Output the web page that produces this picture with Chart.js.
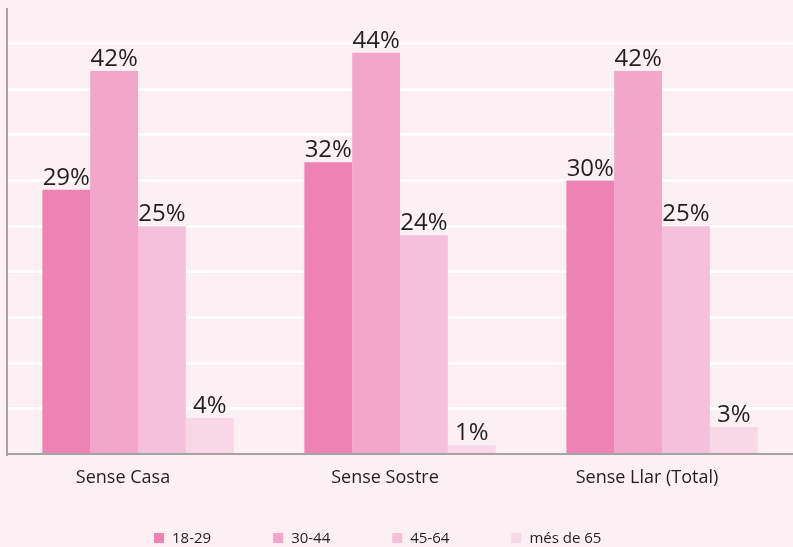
<!DOCTYPE html>
<html>
<head>
<meta charset="utf-8">
<script src="https://cdn.jsdelivr.net/npm/chart.js@4"></script>
<style>
  html, body { margin: 0; padding: 0; background: #fcf0f5; }
  #wrap { width: 793px; height: 547px; }
</style>
</head>
<body>
<div id="wrap"><canvas id="chart"></canvas></div>
<script>
// dades
const categories = ['Sense Casa', 'Sense Sostre', 'Sense Llar (Total)'];
const ageGroups = ['18-29', '30-44', '45-64', 'més de 65'];
const v18_29 = [29, 32, 30];
const v30_44 = [42, 44, 42];
const v45_64 = [25, 24, 25];
const v65 = [4, 1, 3];
const colors = ['#ee83b3', '#f2a6ca', '#f5c0da', '#f8d7e6'];

const textColor = '#231f20';
const font = '"Open Sans", "DejaVu Sans", sans-serif';

// etiquetes de percentatge sobre cada barra
const valueLabels = {
    id: 'valueLabels',
    afterDatasetsDraw(chart) {
        const ctx = chart.ctx;
        ctx.save();
        ctx.fillStyle = textColor;
        ctx.font = '24px ' + font;
        ctx.textAlign = 'center';
        ctx.textBaseline = 'alphabetic';
        chart.data.datasets.forEach((ds, i) => {
            chart.getDatasetMeta(i).data.forEach((bar, j) => {
                ctx.fillText(ds.data[j] + '%', bar.x, bar.y - 5);
            });
        });
        ctx.restore();
    }
};

// llegenda a mà (espaiat ample)
const bottomLegend = {
    id: 'bottomLegend',
    afterDraw(chart, args, opts) {
        const ctx = chart.ctx;
        ctx.save();
        ctx.font = '15px ' + font;
        ctx.textBaseline = 'middle';
        let x = opts.startX;
        const y = opts.y;
        chart.data.datasets.forEach(ds => {
            ctx.fillStyle = ds.backgroundColor;
            ctx.fillRect(x, y - 5, 10, 10);
            ctx.fillStyle = textColor;
            ctx.fillText(ds.label, x + 18, y + 1);
            x += 18 + ctx.measureText(ds.label).width + opts.gap;
        });
        ctx.restore();
    }
};

new Chart(document.getElementById('chart'), {
    type: 'bar',
    data: {
        labels: categories,
        datasets: [
            { label: ageGroups[0], data: v18_29, backgroundColor: colors[0] },
            { label: ageGroups[1], data: v30_44, backgroundColor: colors[1] },
            { label: ageGroups[2], data: v45_64, backgroundColor: colors[2] },
            { label: ageGroups[3], data: v65, backgroundColor: colors[3] }
        ]
    },
    options: {
        responsive: true,
        maintainAspectRatio: false,
        animation: false,
        layout: { padding: { left: 7, right: 0, top: 9, bottom: 45 } },
        datasets: {
            bar: { categoryPercentage: 0.73, barPercentage: 1.0 }
        },
        scales: {
            x: {
                grid: { display: false, drawTicks: false },
                border: { display: true, color: '#a3a3a3', width: 2 },
                ticks: {
                    color: textColor,
                    font: { family: font, size: 18 },
                    padding: 13,
                    labelOffset: -15
                }
            },
            y: {
                min: 0,
                max: 48.8,
                ticks: { display: false, stepSize: 5 },
                grid: {
                    drawTicks: false,
                    lineWidth: 3,
                    color: c => (c.tick && c.tick.value > 0 && c.tick.value % 5 === 0) ? '#ffffff' : 'rgba(0,0,0,0)'
                },
                border: { display: true, color: '#a3a3a3', width: 2 }
            }
        },
        plugins: {
            legend: { display: false },
            tooltip: { enabled: false },
            bottomLegend: { startX: 154, y: 538, gap: 62 }
        }
    },
    plugins: [valueLabels, bottomLegend]
});
</script>
</body>
</html>
